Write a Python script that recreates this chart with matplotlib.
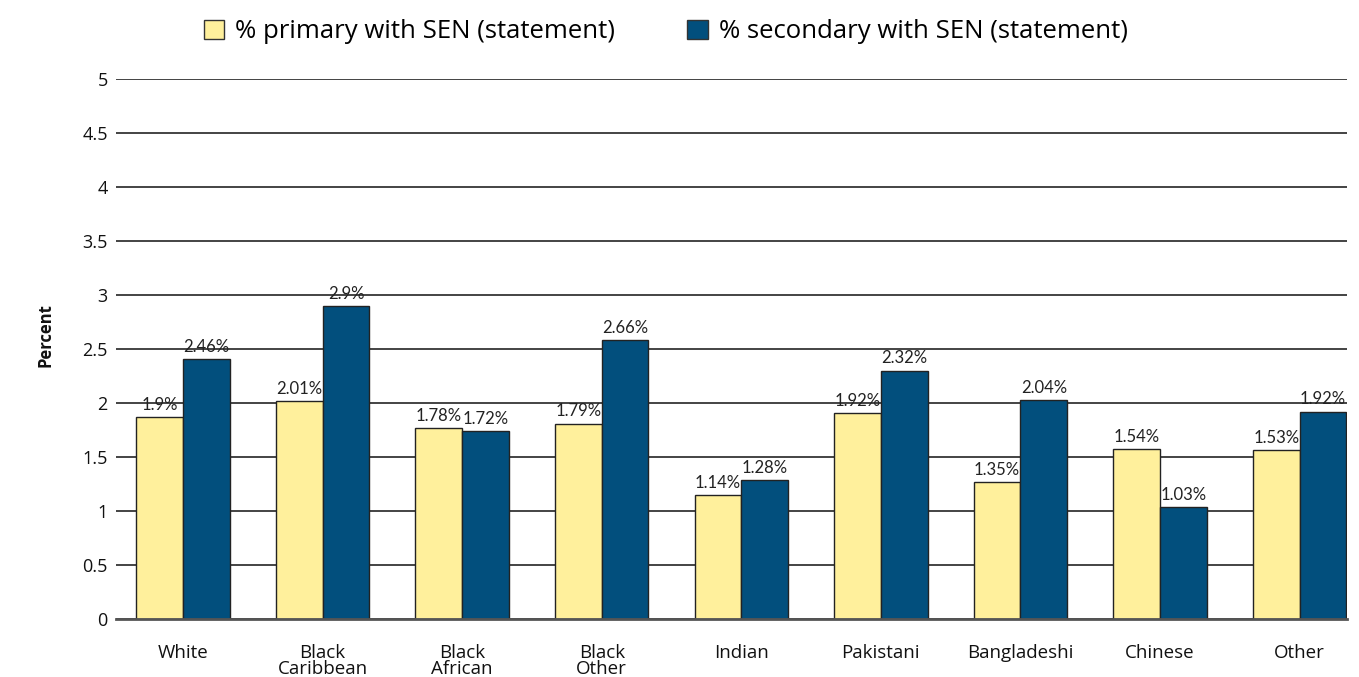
import matplotlib
matplotlib.use("Agg")
import matplotlib.pyplot as plt
import numpy as np
from matplotlib.patches import Patch

categories = ["White", "Black\nCaribbean", "Black\nAfrican", "Black\nOther", "Indian",
              "Pakistani", "Bangladeshi", "Chinese", "Other"]
primary = [1.87, 2.02, 1.77, 1.81, 1.15, 1.91, 1.27, 1.57, 1.565]
secondary = [2.41, 2.90, 1.74, 2.58, 1.29, 2.30, 2.03, 1.04, 1.92]
primary_labels = ["1.9%", "2.01%", "1.78%", "1.79%", "1.14%", "1.92%", "1.35%", "1.54%", "1.53%"]
secondary_labels = ["2.46%", "2.9%", "1.72%", "2.66%", "1.28%", "2.32%", "2.04%", "1.03%", "1.92%"]
yticks = [0, 0.5, 1, 1.5, 2, 2.5, 3, 3.5, 4, 4.5, 5]
ytick_labels = ["0", "0.5", "1", "1.5", "2", "2.5", "3", "3.5", "4", "4.5", "5"]

YELLOW = "#FFF09C"
NAVY = "#024F7D"

plt.rcParams['font.family'] = ['Open Sans', 'DejaVu Sans']

fig = plt.figure(figsize=(13.59, 6.77), dpi=100)
ax = fig.add_axes([116/1359, 1-619/677, (1347-116)/1359, (619-79)/677])

x = np.arange(len(categories))
w = 0.335
ax.bar(x - w/2, primary, w, color=YELLOW, edgecolor="#222222", linewidth=1.0, zorder=3)
ax.bar(x + w/2, secondary, w, color=NAVY, edgecolor="#222222", linewidth=1.0, zorder=3)

lab_font = dict(fontsize=12, color="#222222", family=['Lato', 'DejaVu Sans'], zorder=4)
for xi, v, lab in zip(x - w/2, primary, primary_labels):
    ax.annotate(lab, (xi, v), xytext=(0, 3), textcoords="offset points", ha="center",
                va="bottom", **lab_font)
for xi, v, lab in zip(x + w/2, secondary, secondary_labels):
    ax.annotate(lab, (xi, v), xytext=(0, 3), textcoords="offset points", ha="center",
                va="bottom", **lab_font)

ax.set_ylim(0, 5)
ax.set_xlim(-0.48, 8.34)
ax.set_yticks(yticks)
ax.set_yticklabels(ytick_labels, fontsize=13, color="#111111")
ax.set_xticks(x)
ax.set_xticklabels(categories, fontsize=13.5, color="#111111", linespacing=0.85)
ax.tick_params(axis="both", length=0)
ax.tick_params(axis="x", pad=18)
ax.tick_params(axis="y", pad=6)
ax.yaxis.grid(True, color="#111111", linewidth=1.1, zorder=0)
for s in ["top", "right", "left"]:
    ax.spines[s].set_visible(False)
ax.spines["bottom"].set_color("#555555")
ax.spines["bottom"].set_linewidth(2)
ax.spines["bottom"].set_zorder(5)

fig.text(45/1359, 1-335/677, "Percent", rotation=90, ha="center", va="center",
         fontsize=12, fontweight="bold", color="#111111")

handles = [Patch(facecolor=YELLOW, edgecolor="#333333", label="% primary with SEN (statement)"),
           Patch(facecolor=NAVY, edgecolor="#333333", label="% secondary with SEN (statement)")]
fig.legend(handles=handles, loc="center", bbox_to_anchor=(0.49, 1-32/677), ncol=2,
           frameon=False, fontsize=18.5, handlelength=0.8, handleheight=0.8,
           columnspacing=2.8, handletextpad=0.43)

fig.savefig("out.png", dpi=100)
